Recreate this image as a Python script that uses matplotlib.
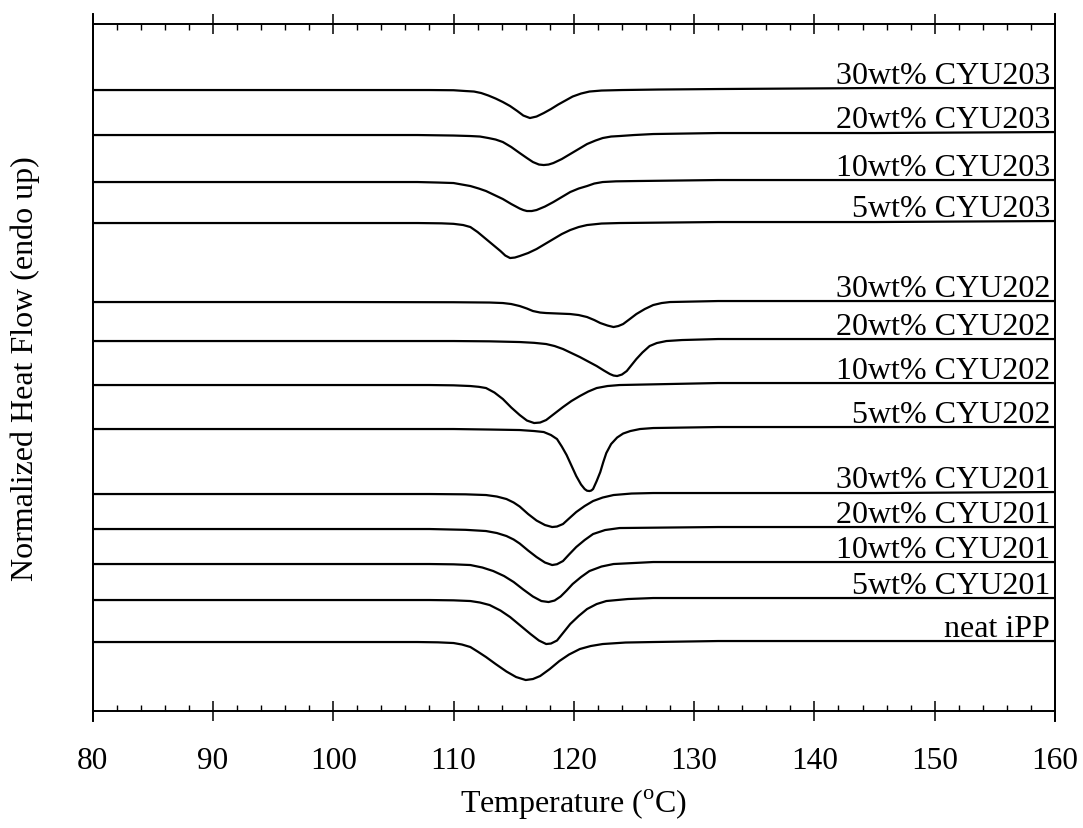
import matplotlib
matplotlib.use("Agg")
import matplotlib.pyplot as plt
from matplotlib.ticker import MultipleLocator

plt.rcParams['font.family'] = ['Liberation Serif', 'DejaVu Serif']
plt.rcParams['mathtext.fontset'] = 'custom'
plt.rcParams['mathtext.rm'] = 'Liberation Serif'

# DSC cooling curves (heat flow in arbitrary stacked units)
t_203_30 = [80, 100, 108, 110, 111, 111.7, 112.3, 112.9, 113.5, 114.1, 114.7, 115.3, 115.8, 116.35, 116.9, 117.5,
            118.1, 118.7, 119.3, 119.9, 120.6, 121.3, 122.3, 124, 127, 132, 145, 160]
hf_203_30 = [62.1, 62.1, 62.1, 62.08, 62.0, 61.95, 61.8, 61.55, 61.25, 60.9, 60.5, 60.0, 59.55, 59.3, 59.45, 59.8,
             60.2, 60.65, 61.05, 61.45, 61.75, 61.95, 62.05, 62.1, 62.15, 62.2, 62.3, 62.3]

t_203_20 = [80, 100, 107, 110, 111.4, 112.2, 112.9, 113.5, 114.1, 114.8, 115.5, 116.1, 116.6, 117.1, 117.5, 117.9,
            118.3, 119.0, 119.7, 120.4, 121.1, 121.8, 122.4, 123.1, 123.8, 125, 126.6, 132, 145, 160]
hf_203_20 = [57.6, 57.6, 57.6, 57.55, 57.5, 57.45, 57.3, 57.15, 56.9, 56.4, 55.8, 55.3, 54.9, 54.65, 54.6, 54.65,
             54.8, 55.2, 55.7, 56.2, 56.7, 57.05, 57.3, 57.45, 57.5, 57.6, 57.7, 57.8, 57.8, 57.9]

t_203_10 = [80, 100, 107, 108.7, 110, 110.7, 111.4, 112.1, 112.7, 113.4, 114.1, 114.8, 115.5, 115.8, 116.1, 116.5,
            116.9, 117.6, 118.3, 119.0, 119.7, 120.4, 121.1, 121.7, 122.4, 123.5, 125.2, 132, 145, 160]
hf_203_10 = [52.9, 52.9, 52.9, 52.85, 52.8, 52.65, 52.5, 52.25, 52.0, 51.6, 51.2, 50.7, 50.25, 50.1, 50.0, 50.0,
             50.1, 50.45, 50.9, 51.4, 51.9, 52.25, 52.5, 52.75, 52.9, 52.97, 53.0, 53.1, 53.1, 53.1]

t_203_5 = [80, 100, 107, 109, 110, 110.8, 111.4, 112.0, 112.7, 113.3, 113.9, 114.3, 114.7, 115.1, 115.5, 116.2,
           116.9, 117.6, 118.3, 119.0, 119.7, 120.4, 121.1, 122.3, 123.8, 132, 145, 160]
hf_203_5 = [48.8, 48.8, 48.8, 48.77, 48.72, 48.6, 48.4, 47.9, 47.2, 46.6, 46.0, 45.55, 45.3, 45.35, 45.5, 45.8,
            46.2, 46.7, 47.2, 47.7, 48.1, 48.4, 48.6, 48.75, 48.8, 48.9, 48.9, 49.0]

t_202_30 = [80, 100, 110, 113, 114.1, 114.8, 115.5, 116.1, 116.6, 117.2, 117.7, 118.7, 119.7, 120.4, 121.1, 121.7,
            122.2, 122.8, 123.3, 123.7, 124.1, 124.6, 125.2, 125.9, 126.6, 127.3, 128, 132, 145, 160]
hf_202_30 = [40.9, 40.9, 40.88, 40.85, 40.8, 40.7, 40.5, 40.25, 40.0, 39.85, 39.8, 39.75, 39.7, 39.6, 39.4, 39.1,
             38.8, 38.55, 38.4, 38.5, 38.7, 39.15, 39.7, 40.2, 40.6, 40.8, 40.9, 41.0, 41.0, 41.0]

t_202_20 = [80, 100, 110, 113, 115.5, 116.7, 117.7, 118.4, 119.1, 119.8, 120.5, 121.2, 121.9, 122.5, 123.0, 123.3,
            123.6, 124.0, 124.4, 124.8, 125.2, 125.7, 126.3, 126.9, 127.7, 129, 132, 145, 160]
hf_202_20 = [37.0, 37.0, 37.0, 36.97, 36.9, 36.82, 36.7, 36.5, 36.2, 35.8, 35.4, 34.95, 34.5, 34.05, 33.7, 33.55,
             33.5, 33.65, 34.0, 34.6, 35.2, 35.85, 36.5, 36.8, 37.0, 37.1, 37.2, 37.2, 37.2]

t_202_10 = [80, 100, 108, 110, 111.4, 112.1, 112.7, 113.4, 114.1, 114.8, 115.5, 116.1, 116.7, 117.2, 117.7, 118.4,
            119.1, 119.8, 120.5, 121.2, 121.9, 122.8, 123.8, 132, 145, 160]
hf_202_10 = [32.6, 32.6, 32.6, 32.57, 32.5, 32.42, 32.3, 31.85, 31.2, 30.35, 29.6, 29.05, 28.8, 28.85, 29.1, 29.75,
             30.4, 31.0, 31.5, 31.95, 32.3, 32.5, 32.6, 32.8, 32.8, 32.8]

t_202_5 = [80, 100, 110, 113, 115.5, 116.7, 117.5, 118.1, 118.6, 119.0, 119.4, 119.8, 120.2, 120.6, 120.9, 121.1,
           121.3, 121.45, 121.6, 121.9, 122.2, 122.45, 122.7, 123.1, 123.6, 124.1, 124.7, 125.5, 126.6, 132, 145, 160]
hf_202_5 = [28.2, 28.2, 28.2, 28.15, 28.1, 28.0, 27.9, 27.6, 27.2, 26.45, 25.6, 24.55, 23.5, 22.65, 22.2, 22.03,
            22.0, 22.05, 22.2, 23.0, 23.9, 24.9, 25.8, 26.7, 27.35, 27.75, 28.0, 28.2, 28.3, 28.4, 28.4, 28.4]

t_201_30 = [80, 100, 108, 111, 112.7, 113.6, 114.4, 115.0, 115.5, 116.2, 116.9, 117.6, 118.2, 118.6, 119.1, 119.6,
            120.2, 120.9, 121.6, 122.4, 123.3, 124.8, 126.6, 145, 160]
hf_201_30 = [21.7, 21.7, 21.7, 21.67, 21.6, 21.45, 21.2, 20.85, 20.45, 19.7, 19.05, 18.6, 18.4, 18.45, 18.7, 19.25,
             19.9, 20.5, 21.0, 21.35, 21.6, 21.75, 21.8, 21.8, 21.9]

t_201_20 = [80, 100, 108, 111, 112.7, 113.6, 114.4, 115.0, 115.5, 116.2, 116.9, 117.6, 118.2, 118.6, 119.1, 119.6,
            120.2, 120.9, 121.6, 122.6, 123.8, 132, 145, 160]
hf_201_20 = [18.2, 18.2, 18.2, 18.12, 18.0, 17.8, 17.5, 17.15, 16.75, 16.05, 15.4, 14.85, 14.6, 14.68, 15.0, 15.65,
             16.4, 17.1, 17.7, 18.1, 18.3, 18.4, 18.4, 18.4]

t_201_10 = [80, 100, 108, 110, 111.4, 112.4, 113.3, 114.2, 115.0, 115.8, 116.6, 117.3, 117.9, 118.4, 118.9, 119.4,
            119.9, 120.6, 121.3, 122.3, 123.3, 126.6, 145, 160]
hf_201_10 = [14.7, 14.7, 14.7, 14.67, 14.6, 14.35, 14.0, 13.5, 12.9, 12.15, 11.45, 11.0, 10.9, 11.05, 11.45, 12.05,
             12.7, 13.4, 14.0, 14.45, 14.7, 14.9, 14.9, 14.9]

t_201_5 = [80, 100, 108, 110, 111.4, 112.2, 113.0, 113.9, 114.7, 115.6, 116.4, 117.1, 117.7, 118.1, 118.6, 119.1,
           119.7, 120.4, 121.1, 121.9, 122.7, 124.5, 126.6, 145, 160]
hf_201_5 = [11.1, 11.1, 11.1, 11.07, 11.0, 10.85, 10.6, 10.05, 9.4, 8.5, 7.7, 7.05, 6.7, 6.75, 7.05, 7.8,
            8.7, 9.5, 10.2, 10.7, 11.0, 11.2, 11.3, 11.3, 11.3]

t_ipp = [80, 100, 107, 108.7, 110.0, 110.7, 111.4, 112.0, 112.7, 113.5, 114.4, 115.2, 116.0, 116.6, 117.2, 118.0,
         118.8, 119.6, 120.5, 121.4, 122.4, 124.3, 126.6, 132, 145, 160]
hf_ipp = [6.9, 6.9, 6.9, 6.87, 6.8, 6.65, 6.4, 5.95, 5.4, 4.7, 3.95, 3.4, 3.1, 3.2, 3.5, 4.2,
          5.0, 5.65, 6.2, 6.5, 6.7, 6.85, 6.9, 7.0, 7.0, 7.0]

names = ["30wt% CYU203", "20wt% CYU203", "10wt% CYU203", "5wt% CYU203",
         "30wt% CYU202", "20wt% CYU202", "10wt% CYU202", "5wt% CYU202",
         "30wt% CYU201", "20wt% CYU201", "10wt% CYU201", "5wt% CYU201",
         "neat iPP"]
curves = [(t_203_30, hf_203_30), (t_203_20, hf_203_20), (t_203_10, hf_203_10), (t_203_5, hf_203_5),
          (t_202_30, hf_202_30), (t_202_20, hf_202_20), (t_202_10, hf_202_10), (t_202_5, hf_202_5),
          (t_201_30, hf_201_30), (t_201_20, hf_201_20), (t_201_10, hf_201_10), (t_201_5, hf_201_5),
          (t_ipp, hf_ipp)]

fig = plt.figure(figsize=(10.83, 8.29), dpi=100)
ax = fig.add_axes([0.0856, 0.1411, 0.8885, 0.8287])

for (t, hf), name in zip(curves, names):
    ax.plot(t, hf, color='black', lw=1.6, solid_joinstyle='round')
    ax.text(159.6, hf[-1] + 0.5, name, ha='right', va='baseline', fontsize=23)

ax.set_xlim(80, 160)
ax.set_ylim(0, 68.7)
ax.xaxis.set_major_locator(MultipleLocator(10))
ax.xaxis.set_minor_locator(MultipleLocator(2))
ax.set_yticks([])
ax.tick_params(axis='x', which='major', direction='inout', length=15, width=1.1,
               top=True, labelsize=22.5, pad=18)
ax.tick_params(axis='x', which='minor', direction='in', length=4.5, width=1.0, top=True)
for s in ax.spines.values():
    s.set_linewidth(1.4)

# vertical frame lines poke out a little past the top and bottom axes
ext = 10 / 687
for xpos in (0, 1):
    ax.plot([xpos, xpos], [-ext, 1 + ext], transform=ax.transAxes, color='black',
            lw=1.4, clip_on=False)

ax.set_xlabel("Temperature ($^{\\rm o}$C)", fontsize=23, labelpad=8)
ax.set_ylabel("Normalized Heat Flow (endo up)", fontsize=23)
ax.yaxis.set_label_coords(-0.055, 0.5)

fig.savefig("out.png", dpi=100)
